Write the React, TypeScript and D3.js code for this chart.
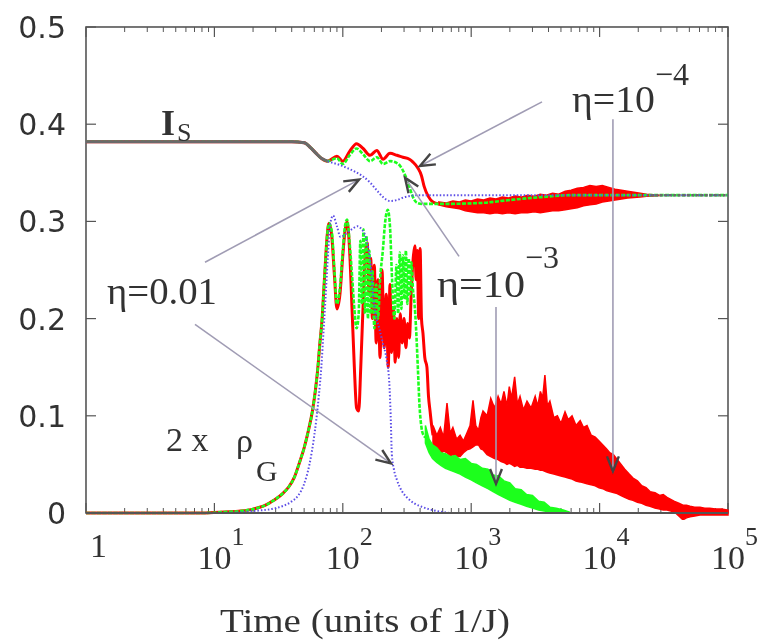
import React from 'react';
import * as d3 from 'd3';

const W = 766;
const H = 642;

// ---------- axis ticks ----------
const xMajorTicks = [1, 10, 100, 1000, 10000, 100000];
const xTickExponents = ['', '1', '2', '3', '4', '5'];
const yTicks = [0, 0.1, 0.2, 0.3, 0.4, 0.5];
const yTickLabels = ['0', '0.1', '0.2', '0.3', '0.4', '0.5'];

type P = [number, number];

// ---------- I_S (upper curves) ----------
const sharedIS: P[] = [[1, 0.382], [40, 0.382], [50, 0.381], [56, 0.376], [62, 0.37], [68, 0.365], [76, 0.362]];
const redIS: P[] = [[1, 0.382], [40, 0.382], [50, 0.381], [56, 0.376], [62, 0.37], [68, 0.365], [76, 0.362],
  [90, 0.367], [100, 0.362], [113, 0.372], [128, 0.38], [144, 0.375], [163, 0.368], [184, 0.373], [206, 0.364],
  [233, 0.37], [264, 0.368], [294, 0.366], [330, 0.364], [352, 0.361], [384, 0.355], [410, 0.347], [430, 0.336],
  [462, 0.326], [504, 0.32], [560, 0.318]];
const greenIS: P[] = [[1, 0.382], [40, 0.382], [50, 0.381], [56, 0.376], [62, 0.37], [68, 0.365], [76, 0.362],
  [90, 0.365], [100, 0.359], [113, 0.368], [128, 0.375], [144, 0.369], [163, 0.362], [184, 0.366], [206, 0.359],
  [233, 0.362], [264, 0.36], [280, 0.357], [300, 0.35], [316, 0.343], [335, 0.333], [352, 0.325], [380, 0.319],
  [420, 0.318], [600, 0.318], [1200, 0.319], [2000, 0.322], [3500, 0.325], [6000, 0.327], [100000, 0.327]];
const blueIS: P[] = [[1, 0.382], [40, 0.382], [50, 0.381], [56, 0.376], [62, 0.37], [68, 0.365], [76, 0.362],
  [85, 0.36], [95, 0.358], [108, 0.355], [125, 0.351], [141, 0.347], [163, 0.34], [184, 0.332], [206, 0.325],
  [233, 0.321], [264, 0.322], [304, 0.325], [400, 0.327], [100000, 0.327]];
const sharedISTail: P[] = [[25000, 0.327], [100000, 0.327]];

// red I_S fluctuation band (time, upper, lower)
const redISBandT = [560, 640, 720, 810, 900, 1000, 1120, 1250, 1400, 1560, 1750, 1950, 2200, 2450, 2750, 3100, 3450,
  3850, 4300, 4800, 5400, 6000, 6700, 7500, 8400, 9400, 10500, 11800, 13200, 14800, 16500, 18500, 20700, 23200, 26000, 29000];
const redISBandHi = [0.32, 0.319, 0.321, 0.32, 0.322, 0.321, 0.323, 0.322, 0.324, 0.323, 0.325, 0.324, 0.326, 0.325,
  0.327, 0.326, 0.328, 0.327, 0.329, 0.328, 0.331, 0.332, 0.334, 0.335, 0.337, 0.336, 0.337, 0.335, 0.333, 0.332,
  0.331, 0.33, 0.329, 0.328, 0.3275, 0.327];
const redISBandLo = [0.317, 0.315, 0.314, 0.313, 0.311, 0.31, 0.309, 0.309, 0.308, 0.309, 0.308, 0.309, 0.308, 0.309,
  0.309, 0.31, 0.309, 0.31, 0.311, 0.311, 0.312, 0.313, 0.314, 0.316, 0.317, 0.318, 0.32, 0.321, 0.322, 0.323,
  0.324, 0.3245, 0.325, 0.3258, 0.3262, 0.3266];

// ---------- 2 x rho_G (lower curves) ----------
const sharedRhoRise: P[] = [[1, 0], [8, 0], [12, 0.001], [16, 0.002], [20, 0.004], [25, 0.008], [29, 0.013],
  [34, 0.02], [38, 0.027], [42, 0.037], [46, 0.052], [50, 0.067], [54, 0.085], [58, 0.105], [61, 0.125],
  [64, 0.15], [66, 0.172], [69, 0.2], [71, 0.228], [73, 0.255], [75, 0.28], [78, 0.298]];
const greenRho: P[] = [...sharedRhoRise,
  [82, 0.29], [86, 0.25], [90, 0.215], [95, 0.232], [100, 0.27], [104, 0.295], [108, 0.302], [113, 0.278],
  [118, 0.245], [123, 0.21], [128, 0.19], [133, 0.205], [137, 0.28], [141, 0.215], [145, 0.292], [149, 0.205],
  [153, 0.285], [157, 0.2], [161, 0.27], [165, 0.205], [170, 0.25], [176, 0.19], [182, 0.235], [188, 0.2],
  [195, 0.24], [205, 0.27], [214, 0.3], [224, 0.312], [233, 0.295], [242, 0.24], [252, 0.2], [262, 0.255],
  [270, 0.205], [278, 0.268], [286, 0.21], [294, 0.265], [302, 0.22], [310, 0.27], [318, 0.215], [326, 0.262],
  [334, 0.225], [342, 0.258], [352, 0.23], [362, 0.215], [372, 0.19], [384, 0.15], [396, 0.11], [410, 0.088],
  [425, 0.08], [440, 0.078]];
const redRho: P[] = [...sharedRhoRise,
  [82, 0.285], [86, 0.245], [90, 0.21], [95, 0.225], [100, 0.265], [104, 0.29], [108, 0.3], [113, 0.27],
  [118, 0.21], [123, 0.15], [128, 0.108], [133, 0.105], [138, 0.15], [145, 0.225], [150, 0.268], [155, 0.278],
  [160, 0.225], [165, 0.262], [170, 0.2], [176, 0.255], [182, 0.175], [188, 0.24], [195, 0.16], [202, 0.25],
  [210, 0.17], [218, 0.225], [226, 0.15], [233, 0.235], [240, 0.165], [248, 0.21], [256, 0.155], [264, 0.2],
  [272, 0.16], [280, 0.205], [290, 0.175], [300, 0.2], [310, 0.17], [320, 0.195], [330, 0.18], [342, 0.23],
  [355, 0.265], [365, 0.275], [372, 0.24], [380, 0.27], [390, 0.2], [400, 0.272], [410, 0.2], [421, 0.185],
  [435, 0.16], [452, 0.15], [465, 0.12], [478, 0.105], [492, 0.09], [504, 0.08]];
const blueRho: P[] = [[1, 0], [12, 0], [20, 0.002], [30, 0.005], [40, 0.012], [45, 0.018], [50, 0.03], [55, 0.05],
  [60, 0.08], [65, 0.12], [68, 0.15], [71, 0.19], [74, 0.23], [77, 0.27], [80, 0.298], [84, 0.306], [90, 0.295],
  [96, 0.284], [105, 0.287], [118, 0.292], [130, 0.295], [140, 0.292], [150, 0.285], [158, 0.272], [165, 0.255],
  [172, 0.225], [180, 0.205], [192, 0.19], [205, 0.175], [220, 0.157], [230, 0.135], [236, 0.1], [241, 0.06],
  [250, 0.045], [264, 0.034], [290, 0.022], [316, 0.016], [360, 0.01], [420, 0.006], [500, 0.003], [600, 0.001],
  [700, 0], [100000, 0]];

// red rho_G fluctuation band
const redRhoBandT = [504, 540, 575, 610, 648, 685, 720, 770, 819, 870, 925, 980, 1033, 1085, 1140, 1190, 1236, 1330,
  1420, 1520, 1620, 1710, 1800, 1900, 1980, 2060, 2180, 2290, 2400, 2550, 2720, 2930, 3150, 3300, 3460, 3600, 3750,
  3920, 4100, 4400, 4690, 5000, 5380, 5700, 6100, 6550, 7060, 7500, 7980, 8600, 9250, 9900, 10600, 11300, 12000,
  12800, 13700, 14700, 15700, 17000, 18200, 19700, 21300, 23000, 24700, 27000, 29300, 31300, 33500, 35800, 38300,
  41400, 44600, 47500, 50600, 55000, 60500, 66000, 72000, 80000, 89000, 100000];
const redRhoBandHi = [0.09, 0.08, 0.088, 0.078, 0.113, 0.082, 0.088, 0.076, 0.08, 0.074, 0.082, 0.09, 0.116, 0.09,
  0.085, 0.098, 0.105, 0.1, 0.118, 0.108, 0.12, 0.112, 0.125, 0.11, 0.13, 0.118, 0.14, 0.112, 0.12, 0.106, 0.115,
  0.108, 0.12, 0.11, 0.125, 0.118, 0.142, 0.11, 0.115, 0.098, 0.1, 0.092, 0.104, 0.096, 0.1, 0.09, 0.095, 0.088,
  0.09, 0.08, 0.078, 0.074, 0.07, 0.066, 0.062, 0.06, 0.055, 0.05, 0.045, 0.04, 0.036, 0.033, 0.028, 0.026, 0.022,
  0.021, 0.018, 0.019, 0.016, 0.014, 0.012, 0.01, 0.008, 0.008, 0.007, 0.006, 0.006, 0.005, 0.005, 0.004, 0.004, 0.003];
const redRhoBandLo = [0.066, 0.062, 0.06, 0.064, 0.062, 0.059, 0.06, 0.058, 0.058, 0.062, 0.065, 0.066, 0.068,
  0.07, 0.07, 0.066, 0.065, 0.06, 0.058, 0.056, 0.055, 0.053, 0.052, 0.05, 0.051, 0.05, 0.048, 0.049, 0.047, 0.047,
  0.046, 0.046, 0.045, 0.045, 0.044, 0.044, 0.043, 0.042, 0.041, 0.04, 0.039, 0.038, 0.037, 0.036, 0.035, 0.033,
  0.032, 0.031, 0.03, 0.029, 0.028, 0.026, 0.025, 0.023, 0.022, 0.021, 0.02, 0.018, 0.016, 0.014, 0.013, 0.011,
  0.01, 0.008, 0.007, 0.005, 0.004, 0.003, 0.003, 0.002, 0.001, -0.003, -0.007, -0.005, -0.004, -0.003, -0.002,
  -0.002, -0.002, -0.002, -0.002, -0.002];

// green rho_G fluctuation band
const greenRhoBandT = [440, 470, 500, 540, 580, 630, 690, 750, 820, 900, 1000, 1100, 1220, 1350, 1480, 1630, 1800,
  2000, 2200, 2450, 2700, 3000, 3350, 3700, 4100, 4600, 5200, 5800];
const greenRhoBandHi = [0.09, 0.076, 0.07, 0.067, 0.062, 0.061, 0.058, 0.059, 0.055, 0.056, 0.051, 0.05, 0.046,
  0.045, 0.039, 0.038, 0.033, 0.031, 0.025, 0.024, 0.019, 0.018, 0.012, 0.011, 0.006, 0.005, 0.003, 0.001];
const greenRhoBandLo = [0.072, 0.062, 0.056, 0.052, 0.049, 0.046, 0.044, 0.042, 0.04, 0.037, 0.034, 0.031, 0.028,
  0.025, 0.022, 0.019, 0.016, 0.013, 0.011, 0.009, 0.007, 0.005, 0.003, 0.002, 0.001, 0, 0, 0];

// annotation arrows in data coordinates: [t0, v0, t1, v1]
const arrowsData: [number, number, number, number][] = [
  [3560, 0.423, 399, 0.357],
  [12700, 0.405, 12700, 0.043],
  [804, 0.264, 305, 0.345],
  [1560, 0.212, 1560, 0.03],
  [8.45, 0.258, 134, 0.343],
  [7.06, 0.194, 237, 0.051],
];

const RED = '#ff0000';
const GREEN = '#1eff1e';
const BLUE = '#5b4de6';
const TEXT = '#333333';
const SERIF = "'Liberation Serif', 'Times New Roman', Tinos, 'Nimbus Roman', 'DejaVu Serif', serif";
const SANS = "'DejaVu Sans', sans-serif";

export default function App() {
  const x = d3.scaleLog().domain([1, 1e5]).range([86, 728]);
  const y = d3.scaleLinear().domain([0, 0.5]).range([513, 27]);

  const lineGen = d3.line<P>().x(d => x(d[0])).y(d => y(d[1])).curve(d3.curveMonotoneX);
  const lin = (pts: P[]) => lineGen(pts) || '';
  const band = (ts: number[], hi: number[], lo: number[]) =>
    d3.area<number>().x((i) => x(ts[i])).y0((i) => y(lo[i])).y1((i) => y(hi[i]))(ts.map((_, i) => i)) || '';

  const minorTicks: number[] = [];
  for (let e = 0; e < 5; e++) for (let m = 2; m <= 9; m++) minorTicks.push(m * Math.pow(10, e));

  const arrowHead = (x0: number, y0: number, x1: number, y1: number) => {
    const a = Math.atan2(y1 - y0, x1 - x0);
    const L = 16, s = 0.38;
    const p1 = [x1 - L * Math.cos(a - s), y1 - L * Math.sin(a - s)];
    const p2 = [x1 - L * Math.cos(a + s), y1 - L * Math.sin(a + s)];
    return `M${p1[0]},${p1[1]}L${x1},${y1}L${p2[0]},${p2[1]}`;
  };

  return (
    <svg width={W} height={H} style={{ position: 'absolute', left: 0, top: 0, background: '#fff' }}>
      <defs>
        <filter id="soft" x="-5%" y="-5%" width="110%" height="110%">
          <feGaussianBlur stdDeviation="0.6" />
        </filter>
        <clipPath id="plotclip">
          <rect x={86} y={20} width={646} height={500} />
        </clipPath>
      </defs>
      <g filter="url(#soft)">
        <rect x={86} y={27} width={642} height={486} fill="none" stroke="#555" strokeWidth={1.6} />
        {yTicks.map((v, i) => (
          <g key={'y' + i}>
            <line x1={86} x2={96} y1={y(v)} y2={y(v)} stroke="#555" strokeWidth={1.2} />
            <line x1={728} x2={718} y1={y(v)} y2={y(v)} stroke="#555" strokeWidth={1.2} />
            <text x={66} y={y(v) + 11} textAnchor="end" style={{ fontFamily: SANS }} fontSize={30} fill={TEXT}>
              {yTickLabels[i]}
            </text>
          </g>
        ))}
        {xMajorTicks.map((t, i) => (
          <g key={'x' + i}>
            <line x1={x(t)} x2={x(t)} y1={513} y2={503} stroke="#555" strokeWidth={1.2} />
            <line x1={x(t)} x2={x(t)} y1={27} y2={37} stroke="#555" strokeWidth={1.2} />
            {i === 0 ? (
              <text x={x(t) + 4} y={557} style={{ fontFamily: SERIF }} fontSize={34} fill={TEXT}>1</text>
            ) : (
              <text x={x(t) - 17} y={569} style={{ fontFamily: SERIF }} fontSize={34} fill={TEXT}>
                10<tspan dy={-24} fontSize={26}>{xTickExponents[i]}</tspan>
              </text>
            )}
          </g>
        ))}
        {minorTicks.map((t, i) => (
          <g key={'m' + i}>
            <line x1={x(t)} x2={x(t)} y1={513} y2={508} stroke="#555" strokeWidth={1} />
            <line x1={x(t)} x2={x(t)} y1={27} y2={32} stroke="#555" strokeWidth={1} />
          </g>
        ))}

        <g clipPath="url(#plotclip)">
          <path d={lin(redIS)} fill="none" stroke={RED} strokeWidth={3} />
          <path d={band(redISBandT, redISBandHi, redISBandLo)} fill={RED} stroke={RED} strokeWidth={1.5} />
          <path d={lin(greenIS)} fill="none" stroke={GREEN} strokeWidth={2.6} strokeDasharray="4,1.5" />
          <path d={lin(blueIS)} fill="none" stroke={BLUE} strokeWidth={2} strokeDasharray="1.5,2" />
          <path d={lin(sharedIS)} fill="none" stroke="#6a6a6a" strokeWidth={3} />
          <path d={lin(sharedISTail)} fill="none" stroke="#6a6a6a" strokeWidth={2.5} strokeDasharray="3,1.5" />

          <path d={lin(redRho)} fill="none" stroke={RED} strokeWidth={3} strokeLinejoin="round" />
          <path d={band(redRhoBandT, redRhoBandHi, redRhoBandLo)} fill={RED} stroke={RED} strokeWidth={1.5} />
          <path d={lin(greenRho)} fill="none" stroke={GREEN} strokeWidth={2.6} strokeDasharray="4,1.5" />
          <path d={band(greenRhoBandT, greenRhoBandHi, greenRhoBandLo)} fill={GREEN} stroke={GREEN} strokeWidth={1.5} />
          <path d={lin(blueRho)} fill="none" stroke={BLUE} strokeWidth={2} strokeDasharray="1.5,2" />
        </g>
        <line x1={86} x2={728} y1={513} y2={513} stroke="#555" strokeWidth={2} />

        {arrowsData.map((a, i) => {
          const x0 = x(a[0]), y0 = y(a[1]), x1 = x(a[2]), y1 = y(a[3]);
          return (
            <g key={'a' + i}>
              <line x1={x0} y1={y0} x2={x1} y2={y1} stroke="#a09cb4" strokeWidth={1.6} />
              <path d={arrowHead(x0, y0, x1, y1)} fill="none" stroke="#444" strokeWidth={2.4} />
            </g>
          );
        })}

        <g style={{ fontFamily: SERIF }} fill={TEXT}>
          <text x={161} y={135} fontWeight="bold" fontSize={36}>I</text>
          <text x={177} y={141} fontSize={26}>S</text>

          <text x={166} y={451} fontSize={34}>2 x</text>
          <text x={236} y={452} fontSize={34}>ρ</text>
          <text x={256} y={481} fontSize={30}>G</text>

          <text x={107} y={304} fontSize={37} textLength={110} lengthAdjust="spacingAndGlyphs">η=0.01</text>

          <text x={572} y={112} fontSize={38} textLength={83} lengthAdjust="spacingAndGlyphs">η=10</text>
          <text x={655} y={85} fontSize={32}>−4</text>

          <text x={437} y={297} fontSize={38} textLength={88} lengthAdjust="spacingAndGlyphs">η=10</text>
          <text x={525} y={268} fontSize={32}>−3</text>

          <text x={220} y={632} fontSize={34} textLength={290} lengthAdjust="spacingAndGlyphs">Time (units of 1/J)</text>
        </g>
      </g>
    </svg>
  );
}
